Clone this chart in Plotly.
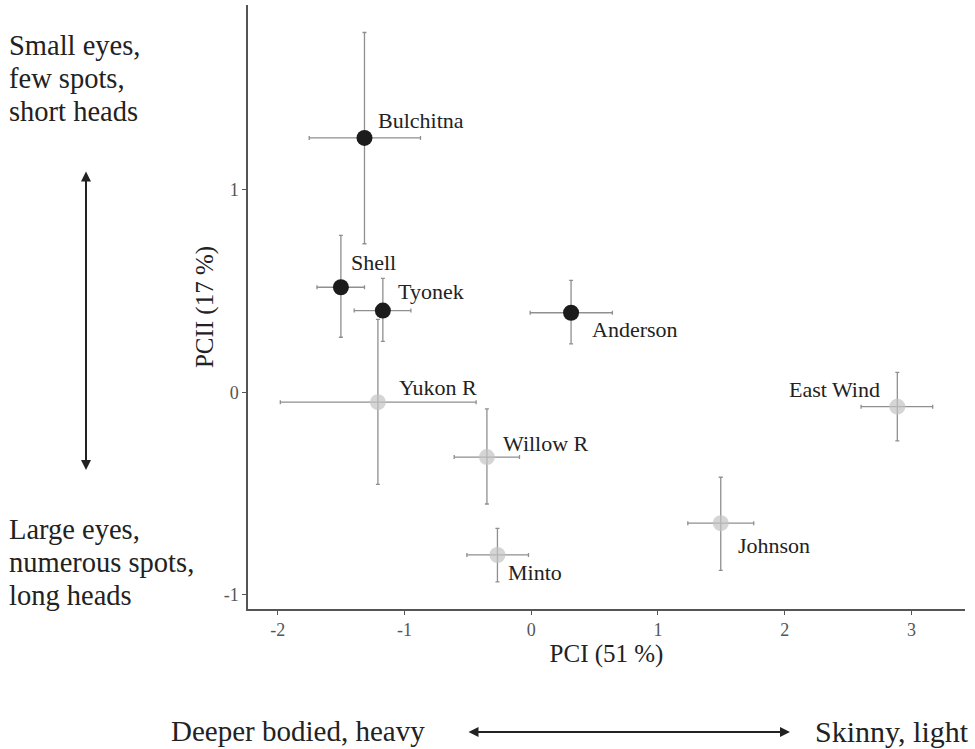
import plotly.graph_objects as go

# ---- data ----
sites = ["Bulchitna", "Shell", "Tyonek", "Anderson", "Yukon R", "Willow R", "Minto", "Johnson", "East Wind"]
group = ["dark", "dark", "dark", "dark", "light", "light", "light", "light", "light"]
pc1 = [-1.315, -1.501, -1.170, 0.315, -1.209, -0.349, -0.266, 1.496, 2.889]
pc1_lo = [-1.751, -1.690, -1.396, -0.008, -1.979, -0.607, -0.507, 1.236, 2.603]
pc1_hi = [-0.873, -1.315, -0.949, 0.641, -0.434, -0.092, -0.021, 1.756, 3.168]
pc2 = [1.257, 0.519, 0.404, 0.393, -0.049, -0.320, -0.804, -0.647, -0.071]
pc2_lo = [0.734, 0.272, 0.252, 0.239, -0.455, -0.552, -0.937, -0.880, -0.240]
pc2_hi = [1.778, 0.775, 0.563, 0.553, 0.360, -0.082, -0.673, -0.420, 0.098]
x_ticks = [-2, -1, 0, 1, 2, 3]
y_ticks = [-1, 0, 1]

# label offsets in pixels (dx, dy, anchor)
label_dx = [12, 8, 13, 19, 19, 14, 9, 15, -15]
label_dy = [17, 25, 19, -17, 15, 14, -18, -22, 17]
label_anchor = ["left"] * 8 + ["right"]

FONT = "Liberation Serif, Times New Roman, serif"
ERR = "#8f8f8f"
TXT = "#222222"

fig = go.Figure()
for g, col in [("light", "rgba(195,195,195,0.7)"), ("dark", "#1c1c1c")]:
    idx = [i for i, gg in enumerate(group) if gg == g]
    fig.add_trace(go.Scatter(
        x=[pc1[i] for i in idx], y=[pc2[i] for i in idx], mode="markers",
        marker=dict(size=16, color=col, line=dict(width=0)),
        error_x=dict(type="data", symmetric=False,
                     array=[pc1_hi[i] - pc1[i] for i in idx],
                     arrayminus=[pc1[i] - pc1_lo[i] for i in idx],
                     color=ERR, thickness=1.3, width=2),
        error_y=dict(type="data", symmetric=False,
                     array=[pc2_hi[i] - pc2[i] for i in idx],
                     arrayminus=[pc2[i] - pc2_lo[i] for i in idx],
                     color=ERR, thickness=1.3, width=2),
        showlegend=False, hoverinfo="skip"))

annotations = []
for i, s in enumerate(sites):
    annotations.append(dict(x=pc1[i], y=pc2[i], xref="x", yref="y", text=s,
                            showarrow=False, xanchor=label_anchor[i], yanchor="middle",
                            xshift=label_dx[i], yshift=label_dy[i],
                            font=dict(family=FONT, size=22, color=TXT)))

side_top = ["Small eyes,", "few spots,", "short heads"]
side_bot = ["Large eyes,", "numerous spots,", "long heads"]
plot_top, plot_h = 5, 604
plot_left, plot_w = 248, 717

def px2paper(xp, yp):
    return (xp - plot_left) / plot_w, (plot_top + plot_h - yp) / plot_h

for k, t in enumerate(side_top):
    xx, yy = px2paper(7, 45 + 33 * k)
    annotations.append(dict(x=xx, y=yy, xref="paper", yref="paper", text=t, showarrow=False,
                            xanchor="left", yanchor="middle",
                            font=dict(family=FONT, size=28.5, color=TXT)))
for k, t in enumerate(side_bot):
    xx, yy = px2paper(7, 529 + 33 * k)
    annotations.append(dict(x=xx, y=yy, xref="paper", yref="paper", text=t, showarrow=False,
                            xanchor="left", yanchor="middle",
                            font=dict(family=FONT, size=28.5, color=TXT)))

xx, yy = px2paper(169, 731)
annotations.append(dict(x=xx, y=yy, xref="paper", yref="paper", text="Deeper bodied, heavy",
                        showarrow=False, xanchor="left", yanchor="middle",
                        font=dict(family=FONT, size=29, color=TXT)))
xx, yy = px2paper(971, 731)
annotations.append(dict(x=xx, y=yy, xref="paper", yref="paper", text="Skinny, light",
                        showarrow=False, xanchor="right", yanchor="middle",
                        font=dict(family=FONT, size=30, color=TXT)))

# arrows
x1, y1 = px2paper(86, 470)
annotations.append(dict(x=x1, y=y1, xref="paper", yref="paper", ax=0, ay=-300, text="",
                        showarrow=True, arrowhead=2, arrowsize=1, arrowwidth=2,
                        arrowside="end+start", arrowcolor=TXT))
x2, y2 = px2paper(790, 732)
annotations.append(dict(x=x2, y=y2, xref="paper", yref="paper", ax=-323, ay=0, text="",
                        showarrow=True, arrowhead=2, arrowsize=1, arrowwidth=2,
                        arrowside="end+start", arrowcolor=TXT))

fig.update_layout(
    width=975, height=749,
    margin=dict(l=248, r=10, t=5, b=140),
    paper_bgcolor="white", plot_bgcolor="white",
    font=dict(family=FONT),
    annotations=annotations,
    xaxis=dict(range=[-2.234, 3.423], tickvals=x_ticks, ticktext=[str(v) for v in x_ticks],
               showgrid=False, zeroline=False, showline=True, linecolor="#555555", linewidth=1.5,
               ticks="outside", ticklen=4, tickcolor="#555555",
               tickfont=dict(family=FONT, size=18, color="#555555"),
               title=dict(text="PCI (51 %)", font=dict(family=FONT, size=25, color=TXT), standoff=2)),
    yaxis=dict(range=[-1.071, 1.914], tickvals=y_ticks, ticktext=[str(v) for v in y_ticks],
               showgrid=False, zeroline=False, showline=True, linecolor="#555555", linewidth=1.5,
               ticks="outside", ticklen=4, tickcolor="#555555",
               tickfont=dict(family=FONT, size=18, color="#555555"),
               title=dict(text="PCII (17 %)", font=dict(family=FONT, size=25, color=TXT), standoff=3)),
)

fig.write_html("out.html")
